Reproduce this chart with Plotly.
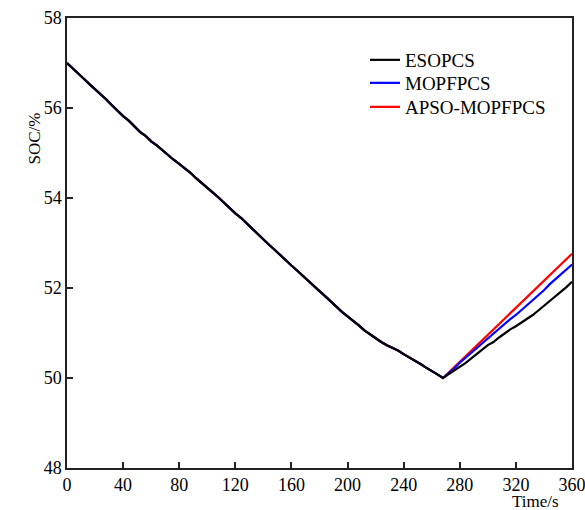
import plotly.graph_objects as go

# Discharge phase (shared by all three strategies), time in s
t_down = list(range(0, 272, 4))
soc_down = [
    57.00, 56.89, 56.78, 56.65, 56.53, 56.42, 56.29, 56.19, 56.06, 55.93,
    55.82, 55.72, 55.59, 55.47, 55.38, 55.26, 55.17, 55.06, 54.97, 54.85,
    54.76, 54.67, 54.56, 54.44, 54.34, 54.22, 54.12, 54.01, 53.89, 53.79,
    53.66, 53.56, 53.43, 53.32, 53.20, 53.07, 52.96, 52.85, 52.73, 52.60,
    52.50, 52.39, 52.27, 52.15, 52.05, 51.93, 51.82, 51.70, 51.60, 51.47,
    51.37, 51.28, 51.17, 51.06, 50.97, 50.87, 50.80, 50.73, 50.67, 50.61,
    50.53, 50.46, 50.38, 50.31, 50.23, 50.16, 50.08, 50.00,
]

# Charging phase, one curve per strategy
t_up = list(range(268, 364, 4))
soc_up_esopcs = [
    50.00, 50.08, 50.17, 50.24, 50.33, 50.43, 50.52, 50.63, 50.73, 50.80,
    50.90, 51.00, 51.08, 51.15, 51.23, 51.31, 51.40, 51.50, 51.60, 51.70,
    51.80, 51.91, 52.02, 52.14,
]
soc_up_mopfpcs = [
    50.00, 50.10, 50.21, 50.34, 50.45, 50.55, 50.66, 50.78, 50.88, 50.98,
    51.09, 51.21, 51.31, 51.40, 51.51, 51.63, 51.74, 51.83, 51.95, 52.08,
    52.19, 52.28, 52.40, 52.52,
]
soc_up_apso = [
    50.00, 50.12, 50.24, 50.36, 50.48, 50.60, 50.72, 50.84, 50.96, 51.08,
    51.20, 51.33, 51.45, 51.57, 51.69, 51.81, 51.93, 52.05, 52.17, 52.29,
    52.41, 52.52, 52.64, 52.76,
]

x_ticks = [0, 40, 80, 120, 160, 200, 240, 280, 320, 360]
y_ticks = [48, 50, 52, 54, 56, 58]

FONT = "Liberation Serif, Times New Roman, serif"

W, H = 585, 510
ML, MR, MT, MB = 67, 13, 18, 42
plot_w = W - ML - MR
plot_h = H - MT - MB

# (name, charging curve, colour, legend id, legend row centre in px from top)
series = [
    ("APSO-MOPFPCS", soc_up_apso, "#ff0000", "legend3", 107),
    ("MOPFPCS", soc_up_mopfpcs, "#0000ff", "legend2", 83),
    ("ESOPCS", soc_up_esopcs, "#000000", "legend", 60),
]

fig = go.Figure()
for name, up, color, leg, _ in series:
    fig.add_trace(go.Scatter(
        x=t_down + t_up[1:],
        y=soc_down + up[1:],
        mode="lines",
        name=name,
        legend=leg,
        line=dict(color=color, width=2.2),
    ))

axis_common = dict(
    showline=True, linecolor="#222222", linewidth=1.5, mirror=True,
    ticks="inside", ticklen=6, tickwidth=1.5, tickcolor="#222222",
    showgrid=False, zeroline=False, automargin=False,
    ticklabeloverflow="allow",
    tickfont=dict(family=FONT, size=18, color="black"),
)

fig.update_xaxes(range=[0, 360], tickvals=x_ticks, **axis_common)
fig.update_yaxes(range=[48, 58], tickvals=y_ticks, **axis_common)


def legend_box(row_y):
    return dict(
        x=(365 - ML) / plot_w, y=(H - MB - row_y) / plot_h,
        xanchor="left", yanchor="middle",
        bgcolor="rgba(0,0,0,0)", borderwidth=0,
        font=dict(family=FONT, size=19, color="black"),
        itemwidth=30,
    )


legends = {leg: legend_box(row) for _, _, _, leg, row in series}

fig.update_layout(
    width=W, height=H,
    margin=dict(l=ML, r=MR, t=MT, b=MB, autoexpand=False),
    paper_bgcolor="white", plot_bgcolor="white",
    font=dict(family=FONT, size=17, color="black"),
    showlegend=True,
    **legends,
    annotations=[
        dict(text="SOC/%", x=(22 - ML) / plot_w, y=(H - MB - 111) / plot_h,
             xref="paper", yref="paper",
             showarrow=False, textangle=-90,
             font=dict(family=FONT, size=17, color="black")),
        dict(text="Time/s", x=(561 - ML) / plot_w, y=-(490 - (H - MB)) / plot_h,
             xref="paper", yref="paper",
             xanchor="right", yanchor="top", showarrow=False,
             font=dict(family=FONT, size=17, color="black")),
    ],
)

fig.write_html("out.html")
